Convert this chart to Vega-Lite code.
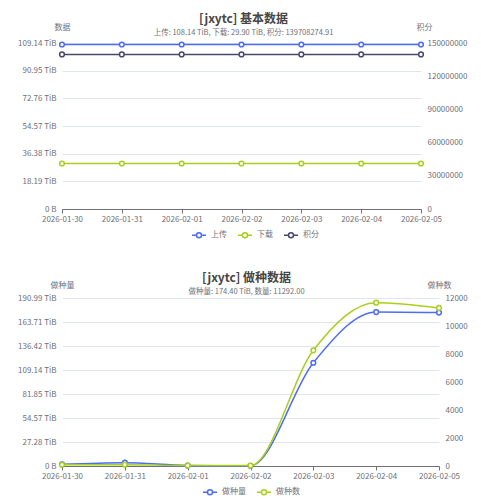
{
  "$schema": "https://vega.github.io/schema/vega-lite/v6.json",
  "padding": {"left": 17, "top": 12, "right": 0, "bottom": 0},
  "background": "white",
  "config": {
    "font": "Noto Sans CJK SC",
    "view": {"stroke": null},
    "axis": {
      "labelFont": "Noto Sans CJK SC",
      "labelFontSize": 8,
      "labelColor": "#6e7079",
      "titleFont": "Noto Sans CJK SC",
      "titleFontSize": 8,
      "titleFontWeight": "normal",
      "titleColor": "#6e7079",
      "gridColor": "#e0e6f1",
      "gridWidth": 1
    },
    "legend": {
      "labelFont": "Noto Sans CJK SC",
      "labelFontSize": 8,
      "labelColor": "#6e7079"
    }
  },
  "resolve": {"scale": {"color": "independent"}, "legend": {"color": "independent"}},
  "datasets": {
    "basic": [
      {"date": "2026-01-30", "series": "上传", "value": 108.14},
      {"date": "2026-01-31", "series": "上传", "value": 108.14},
      {"date": "2026-02-01", "series": "上传", "value": 108.14},
      {"date": "2026-02-02", "series": "上传", "value": 108.14},
      {"date": "2026-02-03", "series": "上传", "value": 108.14},
      {"date": "2026-02-04", "series": "上传", "value": 108.14},
      {"date": "2026-02-05", "series": "上传", "value": 108.14},
      {"date": "2026-01-30", "series": "下载", "value": 29.9},
      {"date": "2026-01-31", "series": "下载", "value": 29.9},
      {"date": "2026-02-01", "series": "下载", "value": 29.9},
      {"date": "2026-02-02", "series": "下载", "value": 29.9},
      {"date": "2026-02-03", "series": "下载", "value": 29.9},
      {"date": "2026-02-04", "series": "下载", "value": 29.9},
      {"date": "2026-02-05", "series": "下载", "value": 29.9},
      {"date": "2026-01-30", "series": "积分", "value": 139708274.91},
      {"date": "2026-01-31", "series": "积分", "value": 139708274.91},
      {"date": "2026-02-01", "series": "积分", "value": 139708274.91},
      {"date": "2026-02-02", "series": "积分", "value": 139708274.91},
      {"date": "2026-02-03", "series": "积分", "value": 139708274.91},
      {"date": "2026-02-04", "series": "积分", "value": 139708274.91},
      {"date": "2026-02-05", "series": "积分", "value": 139708274.91}
    ],
    "seed": [
      {"date": "2026-01-30", "series": "做种量", "value": 1.9},
      {"date": "2026-01-31", "series": "做种量", "value": 3.8},
      {"date": "2026-02-01", "series": "做种量", "value": 0.5},
      {"date": "2026-02-02", "series": "做种量", "value": 0.3},
      {"date": "2026-02-03", "series": "做种量", "value": 117.4},
      {"date": "2026-02-04", "series": "做种量", "value": 175.0},
      {"date": "2026-02-05", "series": "做种量", "value": 174.4},
      {"date": "2026-01-30", "series": "做种数", "value": 90},
      {"date": "2026-01-31", "series": "做种数", "value": 95},
      {"date": "2026-02-01", "series": "做种数", "value": 30},
      {"date": "2026-02-02", "series": "做种数", "value": 30},
      {"date": "2026-02-03", "series": "做种数", "value": 8264},
      {"date": "2026-02-04", "series": "做种数", "value": 11664},
      {"date": "2026-02-05", "series": "做种数", "value": 11292}
    ]
  },
  "spacing": 30,
  "vconcat": [
    {
      "data": {"name": "basic"},
      "width": 359,
      "height": 166,
      "title": {
        "text": "[jxytc] 基本数据",
        "subtitle": "上传: 108.14 TiB, 下载: 29.90 TiB, 积分: 139708274.91",
        "fontSize": 12,
        "fontWeight": "bold",
        "color": "#464646",
        "subtitleFontSize": 7.5,
        "subtitleColor": "#6e7079",
        "subtitlePadding": 3,
        "anchor": "middle",
        "offset": -14,
        "dx": 2
      },
      "encoding": {
        "x": {
          "field": "date",
          "type": "ordinal",
          "scale": {"type": "point", "padding": 0},
          "axis": {
            "title": null,
            "labelAngle": 0,
            "domainColor": "#6e7079",
            "tickColor": "#6e7079",
            "tickSize": 4,
            "grid": false,
            "labelOverlap": false,
            "labelBound": false,
            "labelFlush": false,
            "labelPadding": 2
          }
        },
        "color": {
          "field": "series",
          "type": "nominal",
          "scale": {"domain": ["上传", "下载", "积分"], "range": ["#4d6cf0", "#a8cf1e", "#46486c"]},
          "legend": {
            "title": null,
            "orient": "none",
            "direction": "horizontal",
            "legendX": 131,
            "legendY": 186,
            "symbolType": "M-1.4,0H-0.5M0.5,0A0.5,0.5,0,1,1,-0.5,0A0.5,0.5,0,1,1,0.5,0M0.5,0H1.4",
            "symbolSize": 100,
            "symbolStrokeWidth": 1.5,
            "symbolFillColor": "white",
            "columnPadding": 8,
            "labelOffset": 6
          }
        }
      },
      "layer": [
        {
          "transform": [{"filter": "datum.series !== '积分'"}],
          "mark": {"type": "line", "strokeWidth": 1.5, "point": {"filled": false, "fill": "white", "size": 22, "strokeWidth": 1.5}},
          "encoding": {
            "y": {
              "field": "value",
              "type": "quantitative",
              "scale": {"domain": [0, 109.13936], "nice": false},
              "axis": {
                "values": [0, 18.18989, 36.37979, 54.56968, 72.75958, 90.94947, 109.13936],
                "labelExpr": "datum.value == 0 ? '0 B' : format(datum.value, '.2f') + ' TiB'",
                "domain": false,
                "ticks": false,
                "labelPadding": 6,
                "title": "数据",
                "titleAngle": 0,
                "titleX": 0,
                "titleY": -16,
                "titleAlign": "center",
                "titleBaseline": "middle"
              }
            }
          }
        },
        {
          "transform": [{"filter": "datum.series === '积分'"}],
          "mark": {"type": "line", "strokeWidth": 1.5, "point": {"filled": false, "fill": "white", "size": 22, "strokeWidth": 1.5}},
          "encoding": {
            "y": {
              "field": "value",
              "type": "quantitative",
              "scale": {"domain": [0, 150000000], "nice": false},
              "axis": {
                "orient": "right",
                "values": [0, 30000000, 60000000, 90000000, 120000000, 150000000],
                "format": "d",
                "domain": false,
                "ticks": false,
                "labelPadding": 6,
                "title": "积分",
                "titleAngle": 0,
                "titleX": 3,
                "titleY": -16,
                "titleAlign": "center",
                "titleBaseline": "middle"
              }
            }
          }
        }
      ],
      "resolve": {"scale": {"y": "independent"}}
    },
    {
      "data": {"name": "seed"},
      "width": 377,
      "height": 168,
      "title": {
        "text": "[jxytc] 做种数据",
        "subtitle": "做种量: 174.40 TiB, 数量: 11292.00",
        "fontSize": 12,
        "fontWeight": "bold",
        "color": "#464646",
        "subtitleFontSize": 7.5,
        "subtitleColor": "#6e7079",
        "subtitlePadding": 3,
        "anchor": "middle",
        "offset": -15,
        "dx": -4
      },
      "encoding": {
        "x": {
          "field": "date",
          "type": "ordinal",
          "scale": {"type": "point", "padding": 0},
          "axis": {
            "title": null,
            "labelAngle": 0,
            "domainColor": "#6e7079",
            "tickColor": "#6e7079",
            "tickSize": 4,
            "grid": false,
            "labelOverlap": false,
            "labelBound": false,
            "labelFlush": false,
            "labelPadding": 2
          }
        },
        "color": {
          "field": "series",
          "type": "nominal",
          "scale": {"domain": ["做种量", "做种数"], "range": ["#4d6cf0", "#a8cf1e"]},
          "legend": {
            "title": null,
            "orient": "none",
            "direction": "horizontal",
            "legendX": 142,
            "legendY": 188,
            "symbolType": "M-1.4,0H-0.5M0.5,0A0.5,0.5,0,1,1,-0.5,0A0.5,0.5,0,1,1,0.5,0M0.5,0H1.4",
            "symbolSize": 100,
            "symbolStrokeWidth": 1.5,
            "symbolFillColor": "white",
            "columnPadding": 8,
            "labelOffset": 6
          }
        }
      },
      "layer": [
        {
          "transform": [{"filter": "datum.series === '做种量'"}],
          "mark": {"type": "line", "strokeWidth": 1.5, "interpolate": "monotone", "point": {"filled": false, "fill": "white", "size": 22, "strokeWidth": 1.5}},
          "encoding": {
            "y": {
              "field": "value",
              "type": "quantitative",
              "scale": {"domain": [0, 190.99353], "nice": false},
              "axis": {
                "values": [0, 27.28479, 54.56958, 81.85437, 109.13916, 136.42395, 163.70874, 190.99353],
                "labelExpr": "datum.value == 0 ? '0 B' : format(datum.value, '.2f') + ' TiB'",
                "domain": false,
                "ticks": false,
                "labelPadding": 6,
                "title": "做种量",
                "titleAngle": 0,
                "titleX": 0,
                "titleY": -13,
                "titleAlign": "center",
                "titleBaseline": "middle"
              }
            }
          }
        },
        {
          "transform": [{"filter": "datum.series === '做种数'"}],
          "mark": {"type": "line", "strokeWidth": 1.5, "interpolate": "monotone", "point": {"filled": false, "fill": "white", "size": 22, "strokeWidth": 1.5}},
          "encoding": {
            "y": {
              "field": "value",
              "type": "quantitative",
              "scale": {"domain": [0, 12000], "nice": false},
              "axis": {
                "orient": "right",
                "values": [0, 2000, 4000, 6000, 8000, 10000, 12000],
                "format": "d",
                "domain": false,
                "ticks": false,
                "labelPadding": 6,
                "title": "做种数",
                "titleAngle": 0,
                "titleX": 0,
                "titleY": -13,
                "titleAlign": "center",
                "titleBaseline": "middle"
              }
            }
          }
        }
      ],
      "resolve": {"scale": {"y": "independent"}}
    }
  ]
}
